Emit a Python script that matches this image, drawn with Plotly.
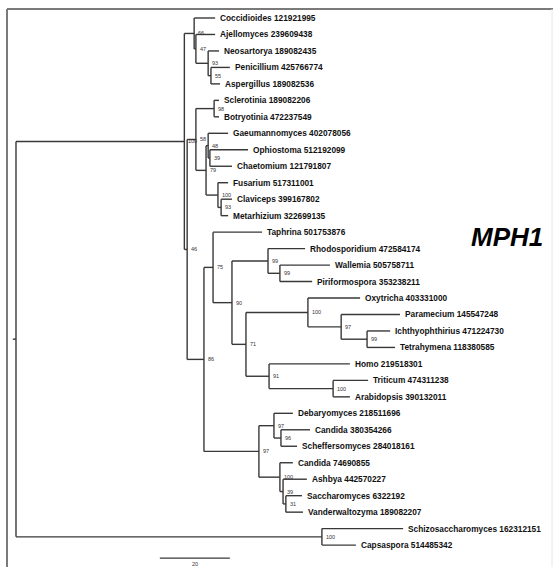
import plotly.graph_objects as go

# ---------------- data ----------------
taxa = [
    "Coccidioides 121921995", "Ajellomyces 239609438", "Neosartorya 189082435",
    "Penicillium 425766774", "Aspergillus 189082536", "Sclerotinia 189082206",
    "Botryotinia 472237549", "Gaeumannomyces 402078056", "Ophiostoma 512192099",
    "Chaetomium 121791807", "Fusarium 517311001", "Claviceps 399167802",
    "Metarhizium 322699135", "Taphrina 501753876", "Rhodosporidium 472584174",
    "Wallemia 505758711", "Piriformospora 353238211", "Oxytricha 403331000",
    "Paramecium 145547248", "Ichthyophthirius 471224730", "Tetrahymena 118380585",
    "Homo 219518301", "Triticum 474311238", "Arabidopsis 390132011",
    "Debaryomyces 218511696", "Candida 380354266", "Scheffersomyces 284018161",
    "Candida 74690855", "Ashbya 442570227", "Saccharomyces 6322192",
    "Vanderwaltozyma 189082207", "Schizosaccharomyces 162312151", "Capsaspora 514485342",
]
# distance of each tip from the root (tree units, scale bar = 20)
tip_depth = [
    56.9, 56.9, 58.0, 61.1, 58.3, 58.0, 58.0, 60.6, 66.3, 61.7, 60.6, 61.7, 60.6,
    70.3, 82.6, 89.7, 84.6, 98.3, 109.7, 106.9, 108.3, 95.4, 100.6, 95.4,
    79.1, 84.0, 80.3, 79.1, 83.1, 81.7, 82.0, 110.6, 97.1,
]
# internal nodes (post-order): children, distance from root, bootstrap support
node_children = [
    ("t3", "t4"), ("t2", "n0"), ("t1", "n1"), ("t0", "n2"),
    ("t5", "t6"), ("t8", "t9"), ("t7", "n5"), ("t11", "t12"), ("t10", "n7"),
    ("n6", "n8"), ("n4", "n9"),
    ("t15", "t16"), ("t14", "n11"), ("t19", "t20"), ("t18", "n13"), ("t17", "n14"),
    ("t22", "t23"), ("t21", "n16"), ("n15", "n17"), ("n12", "n18"), ("t13", "n19"),
    ("t25", "t26"), ("t24", "n21"), ("t29", "t30"), ("t28", "n23"), ("t27", "n24"),
    ("n22", "n25"), ("n20", "n26"), ("n10", "n27"), ("n3", "n28"), ("t31", "t32"),
]
node_depth = [
    55.7, 54.9, 51.4, 50.9,
    56.6, 55.4, 54.9, 58.6, 57.7, 54.3, 51.4,
    75.4, 72.0, 100.3, 92.9, 83.4, 90.6, 72.3, 65.7, 61.7, 56.3,
    75.7, 73.7, 77.1, 76.3, 75.4, 69.4, 53.7, 48.9, 48.1, 87.4,
]
node_support = [
    55, 93, 47, 66,
    98, 39, 48, 93, 100, 79, 58,
    99, 99, 99, 97, 100, 100, 91, 71, 90, 75,
    96, 97, 31, 39, 100, 97, 86, 46, 100, 100,
]
root_children = ("n29", "n30")
root_stub = 0.9
scale_bar_length = 20
title_text = "MPH1"

# ---------------- layout helpers ----------------
W, H = 554, 567
X_RANGE = [-4.571, 153.71]
Y_RANGE = [33.33, -1.093]

pos = {}
for i, d in enumerate(tip_depth):
    pos["t%d" % i] = (d, float(i))
for j, (a, b) in enumerate(node_children):
    pos["n%d" % j] = (node_depth[j], (pos[a][1] + pos[b][1]) / 2.0)
root_y = (pos[root_children[0]][1] + pos[root_children[1]][1]) / 2.0
pos["root"] = (0.0, root_y)

xs, ys = [], []


def connect(parent, children):
    px, _ = pos[parent]
    c_ys = [pos[c][1] for c in children]
    xs.extend([px, px, None])
    ys.extend([min(c_ys), max(c_ys), None])
    for c in children:
        cx, cy = pos[c]
        xs.extend([px, cx, None])
        ys.extend([cy, cy, None])


for j, ch in enumerate(node_children):
    connect("n%d" % j, ch)
connect("root", root_children)
xs.extend([-root_stub, 0.0, None])
ys.extend([root_y, root_y, None])

fig = go.Figure()
fig.add_trace(go.Scatter(
    x=xs, y=ys, mode="lines",
    line=dict(color="#383838", width=1.4),
    hoverinfo="skip", showlegend=False,
))

# scale bar
sb_start = 41.1
sb_y = 32.79
fig.add_trace(go.Scatter(
    x=[sb_start, sb_start + scale_bar_length], y=[sb_y, sb_y], mode="lines",
    line=dict(color="#383838", width=1.4), hoverinfo="skip", showlegend=False,
))

annotations = []
for i, name in enumerate(taxa):
    x, y = pos["t%d" % i]
    annotations.append(dict(
        x=x, y=y, xref="x", yref="y", text="<b>%s</b>" % name,
        showarrow=False, xanchor="left", yanchor="middle", xshift=3,
        font=dict(family="Liberation Sans, Arial", size=8.3, color="#111"),
    ))
for j, s in enumerate(node_support):
    x, y = pos["n%d" % j]
    annotations.append(dict(
        x=x, y=y, xref="x", yref="y", text=str(s),
        showarrow=False, xanchor="left", yanchor="middle", xshift=2,
        font=dict(family="Liberation Sans, Arial", size=5.5, color="#333"),
    ))
annotations.append(dict(
    x=sb_start + scale_bar_length / 2, y=sb_y, xref="x", yref="y",
    text=str(scale_bar_length), showarrow=False, xanchor="center", yanchor="top",
    yshift=-1, font=dict(family="Liberation Sans, Arial", size=5.5, color="#333"),
))
annotations.append(dict(
    x=507 / W, y=1 - 237 / H, xref="paper", yref="paper",
    text="<b><i>%s</i></b>" % title_text, showarrow=False,
    xanchor="center", yanchor="middle",
    font=dict(family="Liberation Sans, Arial", size=26, color="#000"),
))

shapes = [
    dict(type="line", xref="paper", yref="paper", x0=7 / W, x1=553 / W,
         y0=1 - 9 / H, y1=1 - 9 / H, line=dict(color="#7a7a7a", width=2)),
    dict(type="line", xref="paper", yref="paper", x0=7 / W, x1=7 / W,
         y0=0, y1=1 - 9 / H, line=dict(color="#7a7a7a", width=2)),
    dict(type="line", xref="paper", yref="paper", x0=552 / W, x1=552 / W,
         y0=0, y1=1 - 9 / H, line=dict(color="#e6e6e6", width=1)),
]

fig.update_layout(
    width=W, height=H, margin=dict(l=0, r=0, t=0, b=0),
    paper_bgcolor="white", plot_bgcolor="white",
    xaxis=dict(range=X_RANGE, visible=False, fixedrange=True),
    yaxis=dict(range=Y_RANGE, visible=False, fixedrange=True),
    annotations=annotations, shapes=shapes, showlegend=False,
)
fig.write_html("out.html")
